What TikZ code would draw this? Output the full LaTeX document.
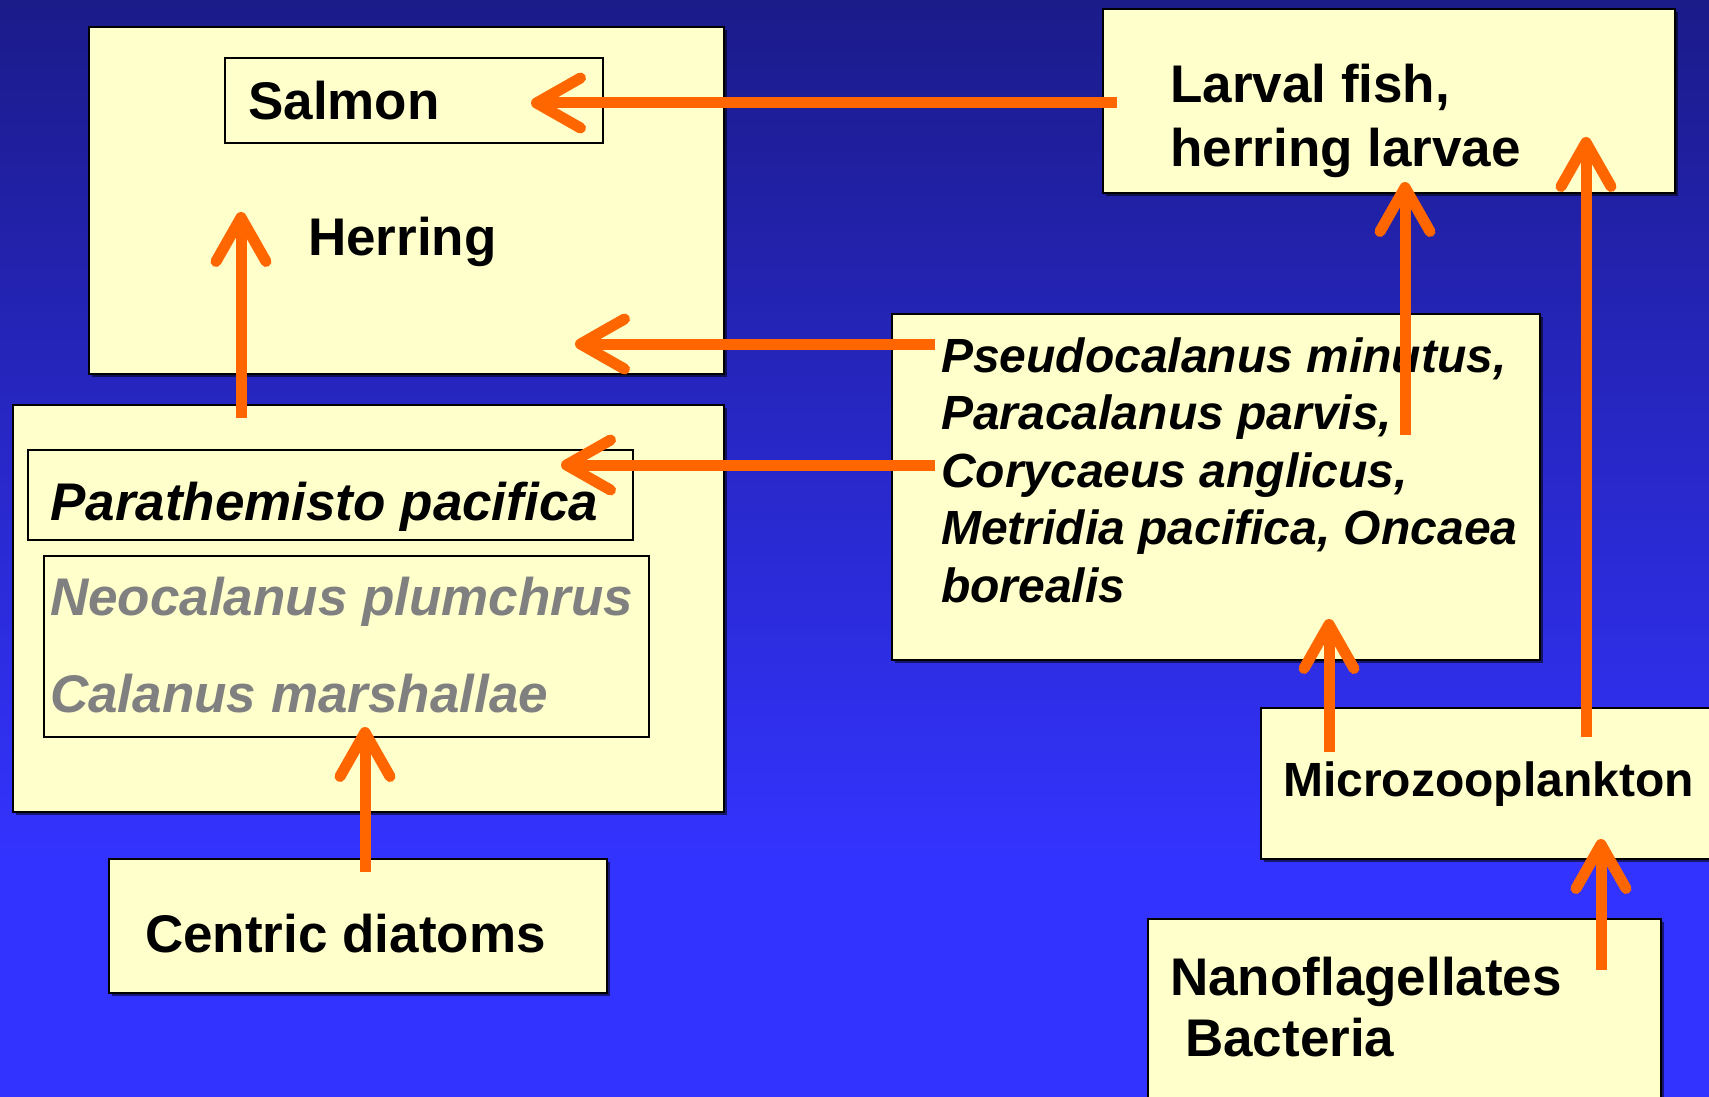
\documentclass[tikz,border=0pt]{standalone}
\usepackage{fontspec}
\setmainfont{Liberation Sans}
\usetikzlibrary{arrows.meta,shadows}
\definecolor{bgtop}{RGB}{27,27,138}
\definecolor{bgbot}{RGB}{51,51,255}
\definecolor{boxfill}{RGB}{255,255,204}
\definecolor{arrorange}{RGB}{255,102,0}
\definecolor{graytext}{RGB}{128,128,128}
\tikzset{
  bigbox/.style={draw=black, line width=2pt, fill=boxfill, anchor=north west,
    inner sep=0pt, outer sep=0pt,
    drop shadow={shadow xshift=3pt, shadow yshift=-3pt, fill=black, opacity=0.55}},
  innerbox/.style={draw=black, line width=1.6pt, anchor=north west, inner sep=0pt, outer sep=0pt},
  bigtxt/.style={font=\fontsize{53}{64}\selectfont\bfseries, inner sep=0pt, anchor=base west, align=left},
  midtxt/.style={font=\fontsize{48}{57.5}\selectfont\bfseries, inner sep=0pt, anchor=base west, align=left},
  arr/.style={draw=arrorange, line width=11pt,
    -{Straight Barb[length=44pt, width=50pt, round]}},
}
\begin{document}
\begin{tikzpicture}[x=1pt, y=-1pt]
\useasboundingbox (0,0) rectangle (1709,1097);
\clip (0,0) rectangle (1709,1097);
% background
\shade[top color=bgtop, bottom color=bgbot] (0,0) rectangle (1709,860);
\fill[bgbot] (0,859) rectangle (1709,1097);

% boxes
\node[bigbox, minimum width=635pt, minimum height=347pt] (herringbox) at (89,27) {};
\node[innerbox, minimum width=378pt, minimum height=85pt] (salmonbox) at (225,58) {};
\node[bigbox, minimum width=711pt, minimum height=407pt] (leftbox) at (13,405) {};
\node[innerbox, minimum width=605pt, minimum height=90pt] (parabox) at (28,450) {};
\node[innerbox, minimum width=605pt, minimum height=181pt] (neobox) at (44,556) {};
\node[bigbox, minimum width=498pt, minimum height=134pt] (centricbox) at (109,859) {};
\node[bigbox, minimum width=572pt, minimum height=184pt] (larvalbox) at (1103,9) {};
\node[bigbox, minimum width=648pt, minimum height=346pt] (pseudobox) at (892,314) {};
\node[bigbox, minimum width=470pt, minimum height=151pt] (microbox) at (1261,708) {};
\node[bigbox, minimum width=513pt, minimum height=200pt] (nanobox) at (1148,919) {};

% texts (base anchor of a multi-line node = baseline of its last line)
\node[bigtxt] (salmon) at (248,120) {Salmon};
\node[bigtxt] (herring) at (308,255) {Herring};
\node[bigtxt, font=\fontsize{53}{64}\selectfont\bfseries\itshape] (para) at (50,520) {Parathemisto pacifica};
\node[bigtxt, font=\fontsize{53}{64}\selectfont\bfseries\itshape, text=graytext] (neo) at (50,615) {Neocalanus plumchrus};
\node[bigtxt, font=\fontsize{53}{64}\selectfont\bfseries\itshape, text=graytext] (cal) at (50,712) {Calanus marshallae};
\node[bigtxt] (centric) at (145,952) {Centric diatoms};
\node[bigtxt] (larval) at (1170,167) {Larval fish,\\herring larvae};
\node[midtxt, font=\fontsize{48}{57.5}\selectfont\bfseries\itshape] (pseudo) at (941,602)
  {Pseudocalanus minutus,\\Paracalanus parvis,\\Corycaeus anglicus,\\Metridia pacifica, Oncaea\\borealis};
\node[midtxt] (micro) at (1283,796) {Microzooplankton};
\node[bigtxt, font=\fontsize{53}{61}\selectfont\bfseries] (nano) at (1170,1056) {Nanoflagellates\\\hspace*{15pt}Bacteria};

% arrows
\draw[arr] ([shift={(14pt,-94pt)}]larvalbox.north west) -- ([shift={(306pt,-45pt)}]salmonbox.north west);
\draw[arr] ([shift={(43pt,-30pt)}]pseudobox.north west) -- ([shift={(486pt,-317pt)}]herringbox.north west);
\draw[arr] ([shift={(43pt,-151pt)}]pseudobox.north west) -- ([shift={(533pt,-15pt)}]parabox.north west);
\draw[arr] ([shift={(228pt,-13pt)}]leftbox.north west) -- ([shift={(152pt,-185pt)}]herringbox.north west);
\draw[arr] ([shift={(256pt,-13pt)}]centricbox.north west) -- ([shift={(321pt,-171pt)}]neobox.north west);
\draw[arr] ([shift={(513pt,-121pt)}]pseudobox.north west) -- ([shift={(302pt,-173pt)}]larvalbox.north west);
\draw[arr] ([shift={(325pt,-29pt)}]microbox.north west) -- ([shift={(483pt,-128pt)}]larvalbox.north west);
\draw[arr] ([shift={(68pt,-44pt)}]microbox.north west) -- ([shift={(437pt,-305pt)}]pseudobox.north west);
\draw[arr] ([shift={(453pt,-51pt)}]nanobox.north west) -- ([shift={(340pt,-131pt)}]microbox.north west);
\end{tikzpicture}
\end{document}
